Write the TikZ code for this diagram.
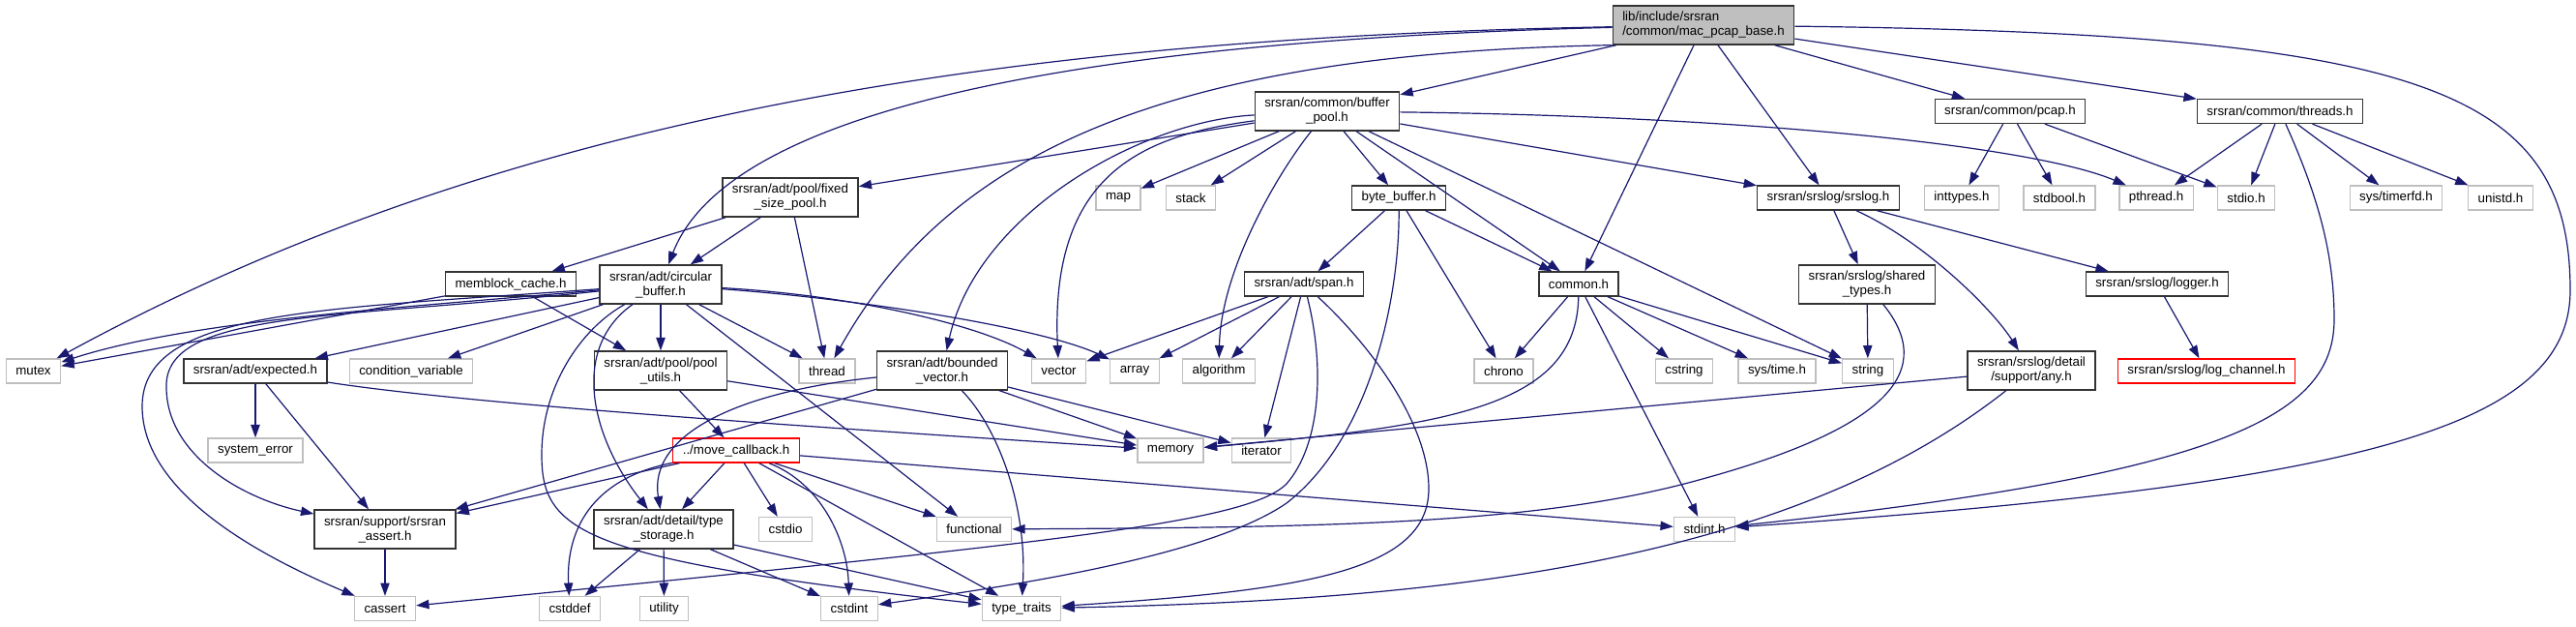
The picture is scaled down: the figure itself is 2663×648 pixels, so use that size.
\documentclass[tikz,border=0pt]{standalone}
\usepackage{fontspec}
\setmainfont{Liberation Sans}
\usetikzlibrary{arrows.meta}
\definecolor{edgeblue}{HTML}{191970}
\definecolor{grey75}{HTML}{BFBFBF}
\definecolor{frame}{HTML}{333333}

\begin{document}
\begin{tikzpicture}[
  x=0.75pt,y=-0.75pt,
  flow/.style={-{Triangle[length=10pt,width=7pt]},draw=edgeblue,line width=0.9pt},
  hdr/.style={draw=frame,fill=white,line width=1pt,font=\fontsize{10}{11.25}\selectfont,
    inner xsep=7.5pt,inner ysep=1pt,minimum height=18.75pt},
  hdr2/.style={hdr,minimum height=30pt,align=center},
  sys/.style={hdr,draw=grey75},
  cut/.style={hdr,draw=red},
  root/.style={hdr,fill=grey75,minimum height=30pt,align=left}
]
\useasboundingbox (0,0) rectangle (2663,648);
% files
\node[root] (mac) at (1761,26) {lib/include/srsran\\/common/mac\_pcap\_base.h};
\node[hdr2] (bufpool) at (1372,115) {srsran/common/buffer\\\_pool.h};
\node[hdr] (pcap) at (2078,115) {srsran/common/pcap.h};
\node[hdr] (threads) at (2357,115) {srsran/common/threads.h};
\node[hdr2] (fixedpool) at (817,204) {srsran/adt/pool/fixed\\\_size\_pool.h};
\node[sys] (map) at (1156,204.5) {map};
\node[sys] (stack) at (1231,204.5) {stack};
\node[hdr] (bytebuf) at (1446,204.5) {byte\_buffer.h};
\node[hdr] (srslog) at (1890,204.5) {srsran/srslog/srslog.h};
\node[sys] (inttypes) at (2028,204.5) {inttypes.h};
\node[sys] (stdbool) at (2129,204.5) {stdbool.h};
\node[sys] (pthread) at (2229,204.5) {pthread.h};
\node[sys] (stdio) at (2322,204.5) {stdio.h};
\node[sys] (timerfd) at (2477,204.5) {sys/timerfd.h};
\node[sys] (unistd) at (2585,204.5) {unistd.h};
\node[hdr] (memblock) at (528,293.5) {memblock\_cache.h};
\node[hdr2] (circbuf) at (683,294) {srsran/adt/circular\\\_buffer.h};
\node[hdr] (span) at (1348,293.5) {srsran/adt/span.h};
\node[hdr] (common) at (1632,293.5) {common.h};
\node[hdr2] (shared) at (1930,294) {srsran/srslog/shared\\\_types.h};
\node[hdr] (logger) at (2230,293.5) {srsran/srslog/logger.h};
\node[sys] (mutex) at (34.5,383.5) {mutex};
\node[hdr] (expected) at (264,383.5) {srsran/adt/expected.h};
\node[sys] (condvar) at (425,383.5) {condition\_variable};
\node[hdr2] (poolutils) at (683,383) {srsran/adt/pool/pool\\\_utils.h};
\node[sys] (thread) at (855,383.5) {thread};
\node[hdr2] (bvector) at (974,383) {srsran/adt/bounded\\\_vector.h};
\node[sys] (vector) at (1094.5,383.5) {vector};
\node[sys] (array) at (1173,383.5) {array};
\node[sys] (algorithm) at (1260,383.5) {algorithm};
\node[sys] (chrono) at (1554.5,383.5) {chrono};
\node[sys] (cstring) at (1741,383.5) {cstring};
\node[sys] (systime) at (1837,383.5) {sys/time.h};
\node[sys] (string) at (1931,383.5) {string};
\node[hdr2] (anyh) at (2100,383) {srsran/srslog/detail\\/support/any.h};
\node[cut] (logchan) at (2281,383.5) {srsran/srslog/log\_channel.h};
\node[sys] (syserr) at (264,465.5) {system\_error};
\node[cut] (movecb) at (761,465.5) {../move\_callback.h};
\node[sys] (memory) at (1210,465.5) {memory};
\node[sys] (iterator) at (1304,465.5) {iterator};
\node[hdr2] (srsassert) at (398,547) {srsran/support/srsran\\\_assert.h};
\node[hdr2] (typestor) at (686,547) {srsran/adt/detail/type\\\_storage.h};
\node[sys] (cstdio) at (812,547) {cstdio};
\node[sys] (functional) at (1007,547) {functional};
\node[sys] (stdinth) at (1762,547) {stdint.h};
\node[sys] (cassert) at (398,629) {cassert};
\node[sys] (cstddef) at (589,629) {cstddef};
\node[sys] (utility) at (686.5,629) {utility};
\node[sys] (cstdint) at (878,629) {cstdint};
\node[sys] (ttraits) at (1056,629) {type\_traits};
% includes of the root file
\draw[flow] (mac) -- (bufpool);
\draw[flow] (mac) -- (pcap);
\draw[flow] (mac) -- (threads);
\draw[flow] (mac) -- (common);
\draw[flow] (mac) -- (srslog);
\draw[flow] (mac) .. controls (1200,40) and (760,95) .. (circbuf);
\draw[flow] (mac) .. controls (1000,40) and (500,130) .. (mutex);
\draw[flow] (mac.south west) .. controls (1200,55) and (980,160) .. (thread);
\draw[flow] (mac) .. controls (2500,35) and (2657,90) .. (2657,300)
  .. controls (2657,440) and (2450,500) .. (stdinth);
% buffer_pool.h
\draw[flow] (bufpool) -- (fixedpool);
\draw[flow] (bufpool) -- (map);
\draw[flow] (bufpool) -- (stack);
\draw[flow] (bufpool) .. controls (1180,125) and (1010,220) .. (bvector);
\draw[flow] (bufpool) .. controls (1180,140) and (1085,180) .. (vector);
\draw[flow] (bufpool) .. controls (1320,180) and (1262,280) .. (algorithm);
\draw[flow] (bufpool) -- (bytebuf);
\draw[flow] (bufpool) -- (common);
\draw[flow] (bufpool) -- (string);
\draw[flow] (bufpool) -- (srslog);
\draw[flow] (bufpool) .. controls (1800,120) and (2100,150) .. (pthread);
% pools and circular buffer
\draw[flow] (fixedpool) -- (memblock);
\draw[flow] (fixedpool) -- (circbuf);
\draw[flow] (fixedpool) -- (thread);
\draw[flow] (memblock) -- (mutex);
\draw[flow] (memblock) -- (poolutils);
\draw[flow] (circbuf) .. controls (420,318) and (200,330) .. (mutex);
\draw[flow] (circbuf) -- (expected);
\draw[flow] (circbuf) -- (condvar);
\draw[flow] (circbuf) -- (poolutils);
\draw[flow] (circbuf) -- (thread);
\draw[flow] (circbuf) .. controls (880,305) and (1010,335) .. (vector);
\draw[flow] (circbuf) .. controls (900,310) and (1080,340) .. (array);
\draw[flow] (circbuf) -- (functional);
\draw[flow] (circbuf) .. controls (590,360) and (610,450) .. (typestor);
\draw[flow] (circbuf) .. controls (600,340) and (560,400) .. (560,470)
  .. controls (560,550) and (600,578) .. (ttraits);
\draw[flow] (circbuf) .. controls (350,330) and (170,320) .. (172,400)
  .. controls (172,470) and (250,515) .. (srsassert);
\draw[flow] (circbuf) .. controls (330,320) and (147,320) .. (147,420)
  .. controls (147,510) and (270,575) .. (cassert);
\draw[flow] (poolutils) -- (movecb);
\draw[flow] (poolutils) -- (memory);
\draw[flow] (expected) -- (syserr);
\draw[flow] (expected) -- (srsassert);
\draw[flow] (expected) .. controls (500,420) and (900,445) .. (memory);
\draw[flow] (srsassert) -- (cassert);
% move_callback.h and type_storage.h
\draw[flow] (movecb) -- (srsassert);
\draw[flow] (movecb) .. controls (610,495) and (585,550) .. (cstddef);
\draw[flow] (movecb) -- (typestor);
\draw[flow] (movecb) -- (cstdio);
\draw[flow] (movecb) .. controls (850,500) and (876,560) .. (cstdint);
\draw[flow] (movecb) -- (functional);
\draw[flow] (movecb) -- (ttraits);
\draw[flow] (movecb) -- (stdinth);
\draw[flow] (typestor) -- (cstddef);
\draw[flow] (typestor) -- (utility);
\draw[flow] (typestor) -- (cstdint);
\draw[flow] (typestor) -- (ttraits);
% bounded_vector.h
\draw[flow] (bvector) -- (memory);
\draw[flow] (bvector) -- (iterator);
\draw[flow] (bvector) .. controls (1030,440) and (1062,520) .. (ttraits);
\draw[flow] (bvector) -- (srsassert);
\draw[flow] (bvector) .. controls (760,405) and (670,450) .. (typestor);
% span.h and byte_buffer.h
\draw[flow] (span) -- (vector);
\draw[flow] (span) -- (array);
\draw[flow] (span) -- (algorithm);
\draw[flow] (span) -- (iterator);
\draw[flow] (span) .. controls (1420,360) and (1477,440) .. (1477,505)
  .. controls (1477,590) and (1350,610) .. (ttraits);
\draw[flow] (span) .. controls (1370,380) and (1365,460) .. (1330,500)
  .. controls (1290,540) and (1100,560) .. (cassert);
\draw[flow] (bytebuf) -- (span);
\draw[flow] (bytebuf) -- (common);
\draw[flow] (bytebuf) -- (chrono);
\draw[flow] (bytebuf) .. controls (1447,300) and (1420,450) .. (1330,520)
  .. controls (1250,575) and (1050,605) .. (cstdint);
% common.h
\draw[flow] (common) -- (chrono);
\draw[flow] (common) -- (cstring);
\draw[flow] (common) -- (systime);
\draw[flow] (common) -- (string);
\draw[flow] (common) -- (stdinth);
\draw[flow] (common) .. controls (1630,420) and (1500,440) .. (memory);
% srslog
\draw[flow] (srslog) -- (shared);
\draw[flow] (srslog) -- (logger);
\draw[flow] (srslog) .. controls (1990,250) and (2060,320) .. (anyh);
\draw[flow] (shared) -- (string);
\draw[flow] (shared) .. controls (2000,380) and (1960,440) .. (1760,495)
  .. controls (1600,540) and (1400,545) .. (functional);
\draw[flow] (logger) -- (logchan);
\draw[flow] (anyh) -- (memory);
\draw[flow] (anyh) .. controls (1850,580) and (1500,620) .. (ttraits);
% pcap.h and threads.h
\draw[flow] (pcap) -- (inttypes);
\draw[flow] (pcap) -- (stdbool);
\draw[flow] (pcap) -- (stdio);
\draw[flow] (threads) -- (pthread);
\draw[flow] (threads) -- (stdio);
\draw[flow] (threads) -- (timerfd);
\draw[flow] (threads) -- (unistd);
\draw[flow] (threads) .. controls (2395,200) and (2413,260) .. (2413,330)
  .. controls (2413,430) and (2300,490) .. (stdinth);
\end{tikzpicture}
\end{document}
